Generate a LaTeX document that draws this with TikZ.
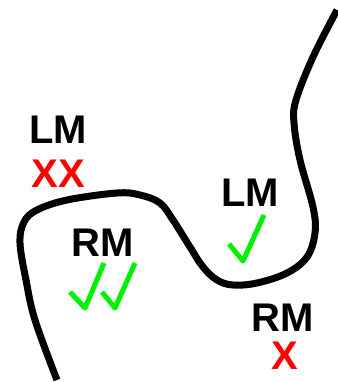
\documentclass[tikz,border=0pt]{standalone}
\usepackage{fontspec}
\setmainfont{Liberation Sans}
\definecolor{chkgreen}{RGB}{0,240,0}
\definecolor{xred}{RGB}{255,0,0}
\begin{document}
\begin{tikzpicture}[x=1pt,y=-1pt,
  lbl/.style={font=\fontsize{40}{40}\selectfont\bfseries, inner sep=0pt, anchor=center},
  xlbl/.style={lbl, text=xred},
  chk/.style={draw=chkgreen, line width=5pt, line join=round},
  boundary/.style={draw=black, line width=7pt}]
\useasboundingbox (0,0) rectangle (337,382);
\draw[boundary] plot[smooth, tension=0.6] coordinates {(57,380) (35,320) (26,280) (20,243) (24,222) (37,210) (67,200) (117,193) (140,195) (160,203) (173,220) (190,247) (203,267) (217,280) (233,285) (257,283) (287,273) (307,257) (315,233) (313,207) (300,160) (294,123) (296,100) (313,57) (337,10)};
\node[lbl] (lm1) at (58,130) {LM};
\node[xlbl] (xx) at (58,174) {XX};
\node[lbl] (rm1) at (103,243) {RM};
\node[lbl] (lm2) at (250,193) {LM};
\node[lbl] (rm2) at (283,318) {RM};
\node[xlbl] (x2) at (285,356) {X};
\coordinate (c1a) at (70,292); \coordinate (c1b) at (85,308); \coordinate (c1c) at (104,263);
\coordinate (c2a) at (102,292); \coordinate (c2b) at (115,308); \coordinate (c2c) at (135,263);
\coordinate (c3a) at (229,244); \coordinate (c3b) at (243,261); \coordinate (c3c) at (264,215);
\draw[chk] (c1a) -- (c1b) -- (c1c);
\draw[chk] (c2a) -- (c2b) -- (c2c);
\draw[chk] (c3a) -- (c3b) -- (c3c);
\end{tikzpicture}
\end{document}
